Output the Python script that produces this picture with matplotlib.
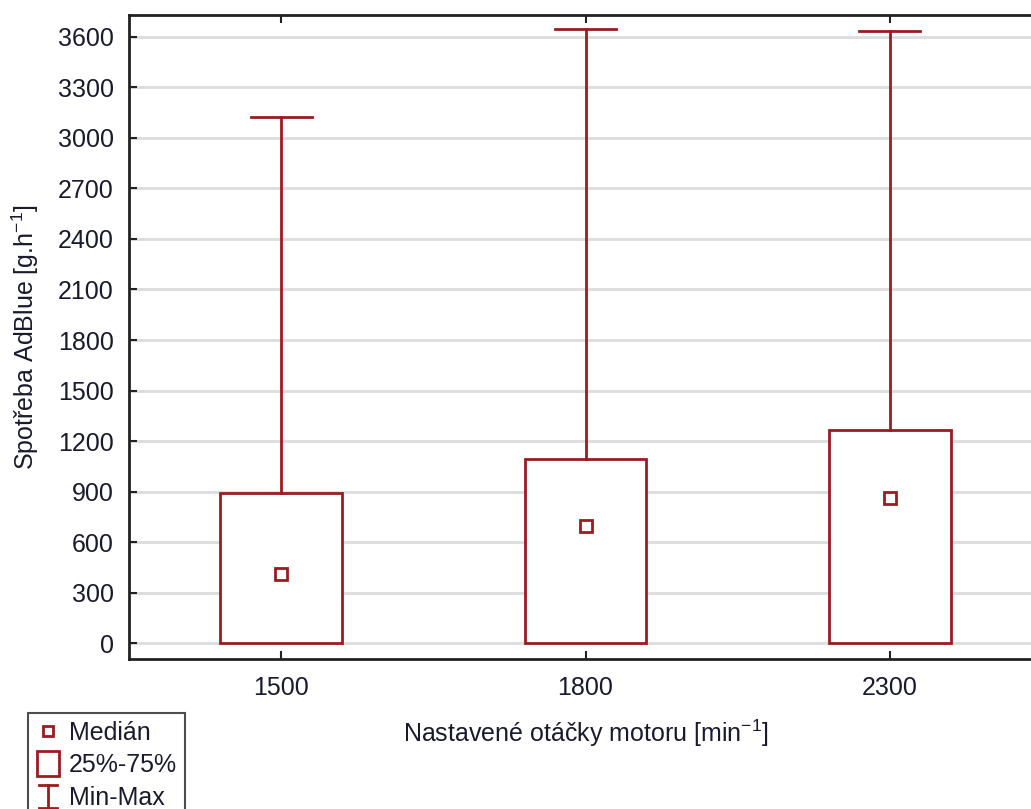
import matplotlib
matplotlib.use("Agg")
import matplotlib.pyplot as plt
from matplotlib.lines import Line2D
from matplotlib.patches import Rectangle
from matplotlib.legend_handler import HandlerBase

categories = ["1500", "1800", "2300"]
minimum = [0, 0, 0]
q25 = [0, 0, 0]
median = [410, 694, 862]
q75 = [890, 1092, 1266]
maximum = [3121, 3646, 3634]
yticks = list(range(0, 3601, 300))

RED = "#9b1b1f"
TXT = "#1a1a2e"
FS = 18
plt.rcParams['font.family'] = ['Liberation Sans', 'DejaVu Sans']

W, H = 1031, 809
fig = plt.figure(figsize=(W / 100, H / 100), dpi=100)
ax = fig.add_axes([129 / W, 1 - 659 / H, (1042 - 129) / W, (659 - 15) / H])

pos = list(range(len(categories)))
bw = 0.4
cw = 0.1
for i, c in enumerate(categories):
    ax.add_patch(Rectangle((i - bw / 2, q25[i]), bw, q75[i] - q25[i], facecolor='white',
                           edgecolor=RED, linewidth=2, zorder=3))
    ax.plot([i, i], [q75[i], maximum[i]], color=RED, lw=2, zorder=3)
    ax.plot([i - cw, i + cw], [maximum[i], maximum[i]], color=RED, lw=2, zorder=3)
    ax.plot([i, i], [q25[i], minimum[i]], color=RED, lw=2, zorder=3)
    ax.plot([i], [median[i]], marker='s', ms=8, mfc='white', mec=RED, mew=2, zorder=4)

ax.set_xlim(-0.5, 2.5)
ax.set_ylim(-93, 3729)
ax.set_yticks(yticks)
ax.set_xticks(pos)
ax.set_xticklabels(categories)
ax.yaxis.grid(True, color='#dcdcdc', lw=2)
ax.set_axisbelow(True)
ax.tick_params(axis='y', direction='in', length=6, width=1.5, pad=11, labelsize=FS, colors='#222', labelcolor=TXT)
ax.tick_params(axis='x', direction='in', length=6, width=1.5, pad=12, labelsize=FS, top=True, colors='#222', labelcolor=TXT)
for s in ax.spines.values():
    s.set_linewidth(2)
    s.set_color('#222')

ax.set_xlabel("Nastavené otáčky motoru [min$^{\\mathregular{-1}}$]", fontsize=FS, color=TXT, labelpad=13)
fig.text(25 / W, 1 - 337 / H, "Spotřeba AdBlue [g.h$^{\\mathregular{-1}}$]", rotation=90,
         ha='center', va='center', fontsize=FS, color=TXT)


class MinMaxHandler(HandlerBase):
    def create_artists(self, legend, orig, xd, yd, width, height, fontsize, trans):
        cx = xd + width / 2
        h = height * 1.3
        y0 = yd + height / 2 - h / 2
        y1 = y0 + h
        cap = width * 0.35
        l1 = Line2D([cx, cx], [y0, y1], color=RED, lw=2, transform=trans)
        l2 = Line2D([cx - cap, cx + cap], [y1, y1], color=RED, lw=2, transform=trans)
        l3 = Line2D([cx - cap, cx + cap], [y0, y0], color=RED, lw=2, transform=trans)
        return [l1, l2, l3]


class BoxHandler(HandlerBase):
    def create_artists(self, legend, orig, xd, yd, width, height, fontsize, trans):
        bwid = width * 0.9
        bh = height * 1.4
        r = Rectangle((xd + width / 2 - bwid / 2, yd + height / 2 - bh / 2), bwid, bh,
                      facecolor='white', edgecolor=RED, lw=2, transform=trans)
        return [r]


class Dummy:
    pass


h_med = Line2D([], [], ls='none', marker='s', ms=7, mfc='white', mec=RED, mew=2)
hb = Dummy()
hm = Dummy()
leg = fig.legend([h_med, hb, hm], ["Medián", "25%-75%", "Min-Max"],
                 handler_map={hb: BoxHandler(), hm: MinMaxHandler()},
                 loc='upper left', bbox_to_anchor=(28 / W, 1 - 713 / H), borderaxespad=0,
                 fancybox=False, frameon=True, edgecolor='#222', fontsize=FS,
                 handlelength=1.0, handletextpad=0.35, borderpad=0.3, labelspacing=0.35)
leg.get_frame().set_linewidth(1.5)
for t in leg.get_texts():
    t.set_color(TXT)

fig.savefig("out.png", dpi=100, facecolor='white')
